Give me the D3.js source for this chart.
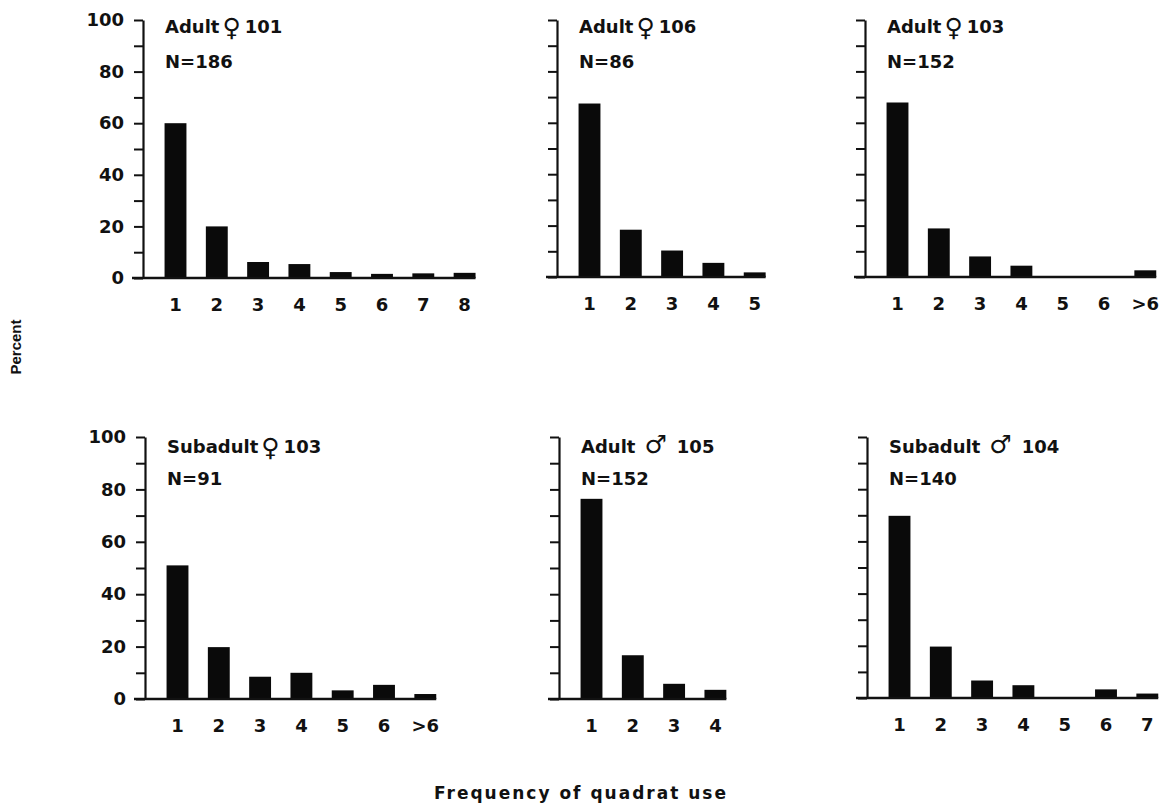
<!DOCTYPE html>
<html><head><meta charset="utf-8">
<script src="https://cdn.jsdelivr.net/npm/d3@7"></script>
<style>
body{margin:0;background:#fff}
svg{display:block}
text{font-family:"DejaVu Sans",sans-serif;font-weight:bold;fill:#111}
</style>
</head><body><svg id="c" width="1170" height="812"></svg>
<script>
// ---- data ----
const panelGroups = ["Adult", "Adult", "Adult", "Subadult", "Adult", "Subadult"];
const panelSexes = ["♀", "♀", "♀", "♀", "♂", "♂"];
const panelIds = ["101", "106", "103", "103", "105", "104"];
const panelN = [186, 86, 152, 91, 152, 140];

const categoriesA = ["1","2","3","4","5","6","7","8"];
const categoriesB = ["1","2","3","4","5"];
const categoriesC = ["1","2","3","4","5","6",">6"];
const categoriesD = ["1","2","3","4","5","6",">6"];
const categoriesE = ["1","2","3","4"];
const categoriesF = ["1","2","3","4","5","6","7"];

const valuesA = [60, 20, 6.2, 5.4, 2.3, 1.6, 1.8, 2.0];
const valuesB = [67.5, 18.4, 10.3, 5.5, 1.8];
const valuesC = [67.9, 18.9, 8.0, 4.4, 0, 0, 2.6];
const valuesD = [51, 19.8, 8.5, 10.0, 3.3, 5.4, 1.9];
const valuesE = [76.4, 16.7, 5.8, 3.5];
const valuesF = [69.8, 19.7, 6.7, 4.9, 0, 3.3, 1.7];

const yTickValues = [0, 20, 40, 60, 80, 100];
const yMinorTicks = [0,10,20,30,40,50,60,70,80,90,100];
const xAxisTitle = "Frequency of quadrat use";
const yAxisTitle = "Percent";

// ---- layout ----
const categories = [categoriesA, categoriesB, categoriesC, categoriesD, categoriesE, categoriesF];
const values = [valuesA, valuesB, valuesC, valuesD, valuesE, valuesF];
const axisX = [143, 557, 865, 145, 559, 867];
const zeroY = [278, 277, 277, 699, 699, 698];
const topY  = [20, 20, 20, 437, 437, 437];
const titleY = [33, 33, 33, 453, 453, 453];
const nY = [68, 68, 68, 485, 485, 485];
const showYLabels = [true, false, false, true, false, false];
const step = 41.3, firstOffset = 32.5;

const svg = d3.select("#c");

categories.forEach((cats, i) => {
  const g = svg.append("g");
  const x0 = axisX[i] + firstOffset - step / 2;
  const x = d3.scaleBand().domain(cats)
    .range([x0, x0 + step * cats.length])
    .paddingInner(0.47).paddingOuter(0.235);
  const y = d3.scaleLinear().domain([0, 100]).range([zeroY[i], topY[i]]);

  // bars
  g.selectAll("rect.bar").data(values[i]).join("rect")
    .attr("class", "bar")
    .attr("x", (d, j) => x(cats[j]))
    .attr("width", x.bandwidth())
    .attr("y", d => y(d))
    .attr("height", d => y(0) - y(d))
    .attr("fill", "#0a0a0a");

  // baseline
  const lastCat = cats[cats.length - 1];
  g.append("line")
    .attr("x1", axisX[i] - 11).attr("x2", x(lastCat) + x.bandwidth())
    .attr("y1", y(0)).attr("y2", y(0))
    .attr("stroke", "#111").attr("stroke-width", 2.5);

  // y axis (minor ticks, every 10)
  const yAx = g.append("g").attr("transform", `translate(${axisX[i]},0)`)
    .call(d3.axisLeft(y).tickValues(yMinorTicks).tickSize(9).tickSizeOuter(0).tickFormat(""));
  yAx.select(".domain").attr("stroke", "#111").attr("stroke-width", 2.2);
  yAx.selectAll(".tick line").attr("stroke", "#111").attr("stroke-width", 2);

  if (showYLabels[i]) {
    const yl = g.append("g").attr("transform", `translate(${axisX[i]},0)`)
      .call(d3.axisLeft(y).tickValues(yTickValues).tickSize(9).tickPadding(10));
    yl.select(".domain").remove();
    yl.selectAll(".tick line").remove();
    yl.selectAll("text").style("font-size", "18px").attr("fill", "#111");
  }

  // x axis labels
  const xl = g.append("g").attr("transform", `translate(0,${y(0)})`)
    .call(d3.axisBottom(x).tickSize(0).tickPadding(20));
  xl.select(".domain").remove();
  xl.selectAll("text").style("font-size", "18px").attr("fill", "#111");

  // titles
  const male = panelSexes[i] === "♂";
  const t = g.append("text").attr("x", axisX[i] + 22).attr("y", titleY[i]).style("font-size", "18px");
  t.append("tspan").text(panelGroups[i]);
  t.append("tspan").attr("dx", male ? 9 : 3).attr("dy", male ? 0 : 3).style("font-size", "25px").text(panelSexes[i]);
  t.append("tspan").attr("dx", male ? 10 : 4).attr("dy", male ? 0 : -3).text(panelIds[i]);

  g.append("text").attr("x", axisX[i] + 22).attr("y", nY[i]).style("font-size", "18px")
    .text("N=" + panelN[i]);
});

svg.append("text")
  .attr("transform", "translate(21,347) rotate(-90)")
  .attr("text-anchor", "middle")
  .style("font-family", "'Liberation Sans', Arial, sans-serif")
  .style("font-size", "15px")
  .text(yAxisTitle);

svg.append("text")
  .attr("x", 581).attr("y", 799)
  .attr("text-anchor", "middle")
  .style("font-size", "17px")
  .style("letter-spacing", "2px")
  .text(xAxisTitle);
</script>
</body></html>
